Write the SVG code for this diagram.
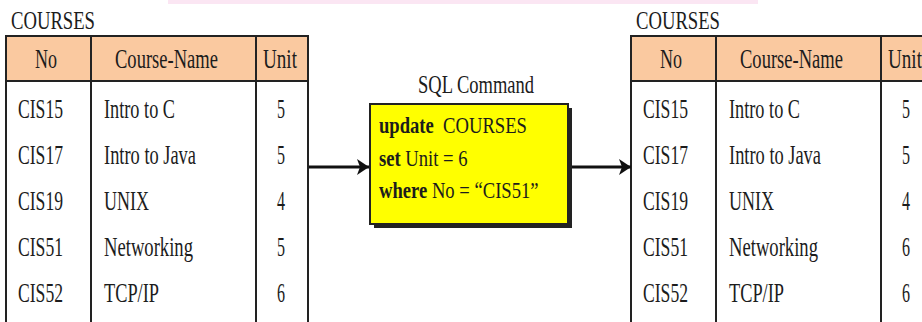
<svg xmlns="http://www.w3.org/2000/svg" width="922" height="322" viewBox="0 0 922 322">
  <style>
    .t { font-family: "Liberation Serif", "Times New Roman", "DejaVu Serif", serif; font-weight: 400; font-size: 27px; fill: #1c1c1c; }
    .cap { font-size: 25px; }
    .box { font-size: 24px; }
    .b { font-weight: 700; }
    .grid { stroke: #222; stroke-width: 2; fill: none; }
    .head { fill: #FAC9A0; }
    .wire { stroke: #111; stroke-width: 3; fill: none; }
  </style>
  <defs>
    <marker id="arrow" viewBox="0 0 12 16" refX="12" refY="8" markerWidth="12" markerHeight="16" markerUnits="userSpaceOnUse" orient="auto">
      <path d="M0,0 L12,8 L0,16 L3,8 Z" fill="#111"/>
    </marker>
    <!-- one COURSES table; the Unit values are drawn per instance -->
    <g id="tableFrame">
      <rect x="6" y="36" width="302" height="300" fill="#fff"/>
      <rect class="head" x="6" y="36" width="302" height="45"/>
      <rect class="grid" x="6" y="36" width="302" height="300"/>
      <line class="grid" x1="6" y1="81" x2="308" y2="81" stroke-width="2.5"/>
      <line class="grid" x1="91" y1="36" x2="91" y2="322"/>
      <line class="grid" x1="256" y1="36" x2="256" y2="322"/>
      <text class="t cap" x="11" y="29" textLength="84" lengthAdjust="spacingAndGlyphs">COURSES</text>
      <text class="t" x="35" y="68" textLength="22" lengthAdjust="spacingAndGlyphs">No</text>
      <text class="t" x="115" y="68" textLength="103" lengthAdjust="spacingAndGlyphs">Course-Name</text>
      <text class="t" x="263" y="68" textLength="34" lengthAdjust="spacingAndGlyphs">Unit</text>
      <text class="t" x="18" y="118" textLength="45" lengthAdjust="spacingAndGlyphs">CIS15</text>
      <text class="t" x="18" y="164" textLength="45" lengthAdjust="spacingAndGlyphs">CIS17</text>
      <text class="t" x="18" y="210" textLength="45" lengthAdjust="spacingAndGlyphs">CIS19</text>
      <text class="t" x="18" y="256" textLength="45" lengthAdjust="spacingAndGlyphs">CIS51</text>
      <text class="t" x="18" y="302" textLength="45" lengthAdjust="spacingAndGlyphs">CIS52</text>
      <text class="t" x="104" y="118" textLength="71" lengthAdjust="spacingAndGlyphs">Intro to C</text>
      <text class="t" x="104" y="164" textLength="92" lengthAdjust="spacingAndGlyphs">Intro to Java</text>
      <text class="t" x="104" y="210" textLength="45" lengthAdjust="spacingAndGlyphs">UNIX</text>
      <text class="t" x="104" y="256" textLength="89" lengthAdjust="spacingAndGlyphs">Networking</text>
      <text class="t" x="104" y="302" textLength="55" lengthAdjust="spacingAndGlyphs">TCP/IP</text>
    </g>
  </defs>

  <rect width="922" height="322" fill="#fff"/>
  <rect x="168" y="0" width="590" height="4" fill="#FBE6F3"/>

  <!-- table before the update -->
  <g id="courses-before">
    <use href="#tableFrame"/>
    <text class="t" x="277" y="118" textLength="8" lengthAdjust="spacingAndGlyphs">5</text>
    <text class="t" x="277" y="164" textLength="8" lengthAdjust="spacingAndGlyphs">5</text>
    <text class="t" x="277" y="210" textLength="8" lengthAdjust="spacingAndGlyphs">4</text>
    <text class="t" x="277" y="256" textLength="8" lengthAdjust="spacingAndGlyphs">5</text>
    <text class="t" x="277" y="302" textLength="8" lengthAdjust="spacingAndGlyphs">6</text>
  </g>

  <!-- the SQL statement: one narrowed text per line, keywords in bold -->
  <g id="sql-command">
    <text class="t cap" x="418" y="93" textLength="116" lengthAdjust="spacingAndGlyphs">SQL Command</text>
    <rect x="374" y="108" width="198" height="120" fill="#222"/>
    <rect x="370" y="104" width="198" height="120" fill="#FFFF00" stroke="#222" stroke-width="2"/>
    <text class="t box" transform="matrix(0.776 0 0 1 379 133)"><tspan class="b">update</tspan><tspan dx="6"> COURSES</tspan></text>
    <text class="t box" transform="matrix(0.776 0 0 1 379 166)"><tspan class="b">set</tspan> Unit = 6</text>
    <text class="t box" transform="matrix(0.776 0 0 1 379 198)"><tspan class="b">where</tspan> No = “CIS51”</text>
  </g>

  <!-- table after the update -->
  <g id="courses-after" transform="translate(625,0)">
    <use href="#tableFrame"/>
    <text class="t" x="277" y="118" textLength="8" lengthAdjust="spacingAndGlyphs">5</text>
    <text class="t" x="277" y="164" textLength="8" lengthAdjust="spacingAndGlyphs">5</text>
    <text class="t" x="277" y="210" textLength="8" lengthAdjust="spacingAndGlyphs">4</text>
    <text class="t" x="277" y="256" textLength="8" lengthAdjust="spacingAndGlyphs">6</text>
    <text class="t" x="277" y="302" textLength="8" lengthAdjust="spacingAndGlyphs">6</text>
  </g>

  <g id="connectors">
    <line class="wire" x1="309" y1="167" x2="369" y2="167" marker-end="url(#arrow)"/>
    <line class="wire" x1="572" y1="167" x2="631" y2="167" marker-end="url(#arrow)"/>
  </g>
</svg>
